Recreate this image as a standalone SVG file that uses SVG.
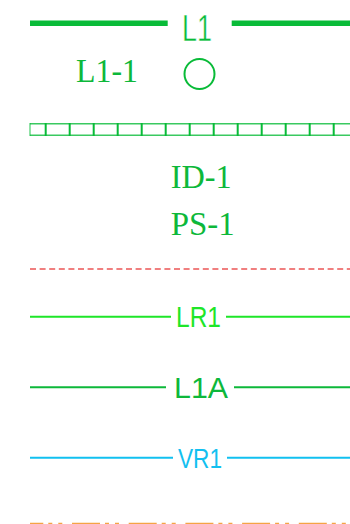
<svg xmlns="http://www.w3.org/2000/svg" width="350" height="524" viewBox="0 0 350 524">
<style>
.sans{font-family:"Liberation Sans",Arial,sans-serif}
.serif{font-family:"Liberation Serif","Times New Roman",serif;font-size:33px;fill:#0DB83A}
.ln{fill:none;stroke-linecap:butt}
</style>
<rect width="350" height="524" fill="#ffffff"/>
<g id="row-L1">
<line class="ln" x1="30" y1="23.3" x2="167.7" y2="23.3" stroke="#09BB38" stroke-width="5.5"/>
<line class="ln" x1="231.7" y1="23.3" x2="350" y2="23.3" stroke="#09BB38" stroke-width="5.5"/>
<text class="sans" x="182" y="40.5" font-size="37" textLength="30" lengthAdjust="spacingAndGlyphs" fill="#09BB38" stroke="#ffffff" stroke-width="0.5">L1</text>
</g>
<g id="row-L1-1">
<text class="serif" x="76" y="81.6" textLength="62" lengthAdjust="spacingAndGlyphs">L1-1</text>
<circle cx="199.5" cy="74" r="15" fill="none" stroke="#09BB38" stroke-width="2"/>
</g>
<g id="row-strip" stroke="#09BB38">
<line x1="30" y1="123.8" x2="350" y2="123.8" stroke-width="1.5" stroke-opacity="0.8"/>
<line x1="30" y1="135.2" x2="350" y2="135.2" stroke-width="1.5" stroke-opacity="0.8"/>
<line x1="30" y1="123" x2="30" y2="136" stroke-width="1.5" stroke-opacity="0.6"/>
<path d="M45.7 123V136M69.7 123V136M93.7 123V136M117.7 123V136M141.7 123V136M165.7 123V136M189.7 123V136M213.7 123V136M237.7 123V136M261.7 123V136M285.7 123V136M309.7 123V136M333.7 123V136" stroke-width="2"/>
</g>
<g id="row-ID-1">
<text class="serif" x="170.7" y="188.3" textLength="61" lengthAdjust="spacingAndGlyphs">ID-1</text>
</g>
<g id="row-PS-1">
<text class="serif" x="170.7" y="235" textLength="64" lengthAdjust="spacingAndGlyphs">PS-1</text>
</g>
<g id="connectors">
<line id="red-dash" class="ln" x1="30" y1="269" x2="350" y2="269" stroke="#EC5656" stroke-width="1.6" stroke-dasharray="6 3.6"/>
<g id="row-LR1">
<line class="ln" x1="30" y1="316.7" x2="171" y2="316.7" stroke="#1EE628" stroke-width="2"/>
<line class="ln" x1="226" y1="316.7" x2="350" y2="316.7" stroke="#1EE628" stroke-width="2"/>
<text class="sans" x="176" y="327.3" font-size="29" textLength="45" lengthAdjust="spacingAndGlyphs" fill="#1EE628">LR1</text>
</g>
<g id="row-L1A">
<line class="ln" x1="30" y1="387.3" x2="166" y2="387.3" stroke="#0DB83A" stroke-width="2"/>
<line class="ln" x1="234" y1="387.3" x2="350" y2="387.3" stroke="#0DB83A" stroke-width="2"/>
<text class="sans" x="174" y="398.3" font-size="29" textLength="54" lengthAdjust="spacingAndGlyphs" fill="#0DB83A">L1A</text>
</g>
<g id="row-VR1">
<line class="ln" x1="30" y1="457.7" x2="173" y2="457.7" stroke="#12C0F0" stroke-width="2"/>
<line class="ln" x1="227" y1="457.7" x2="350" y2="457.7" stroke="#12C0F0" stroke-width="2"/>
<text class="sans" x="178" y="467.7" font-size="28.5" textLength="44" lengthAdjust="spacingAndGlyphs" fill="#12C0F0">VR1</text>
</g>
<line id="orange-dash" class="ln" x1="30" y1="523.6" x2="350" y2="523.6" stroke="#F5A445" stroke-width="1.6" stroke-dasharray="28 5 4 6 4 9.7" stroke-dashoffset="14.7"/>
</g>
</svg>
